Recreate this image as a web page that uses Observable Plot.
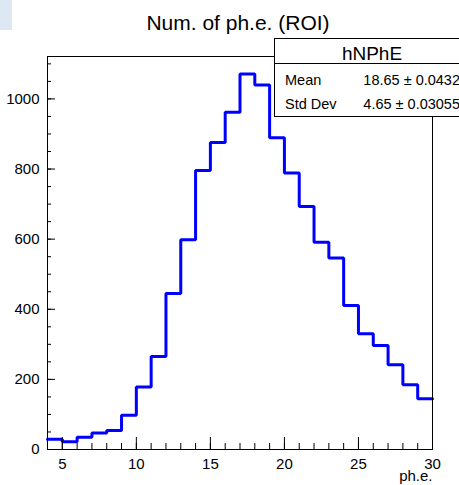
<!DOCTYPE html>
<html>
<head>
<meta charset="utf-8">
<script src="https://cdn.jsdelivr.net/npm/d3@7"></script>
<script src="https://cdn.jsdelivr.net/npm/@observablehq/plot@0.6"></script>
<style>
  html, body { margin: 0; padding: 0; background: #fff; }
  #chart { width: 459px; height: 485px; overflow: hidden; }
</style>
</head>
<body>
<div id="chart"></div>
<script>
// ---- data ----
const title = "Num. of ph.e. (ROI)";
const xLabel = "ph.e.";
const histName = "hNPhE";
const binLow = [4,5,6,7,8,9,10,11,12,13,14,15,16,17,18,19,20,21,22,23,24,25,26,27,28,29];
const binWidth = 1;
const counts = [29,22,35,47,54,98,178,265,445,598,796,876,962,1071,1040,889,789,693,591,546,411,330,297,242,185,145];
const statsLabels = ["Mean", "Std Dev"];
const statsValues = ["18.65 \u00b1 0.0432", "4.65 \u00b1 0.03055"];
const xDomain = [4, 30];
const yDomain = [0, 1121];
const xMajor = [5, 10, 15, 20, 25, 30];
const xMinor = d3.range(4, 31, 1);
const yMajor = [0, 200, 400, 600, 800, 1000];
const yMinor = d3.range(0, 1101, 50);

// step points (left edges + final right edge)
const steps = binLow.map((x, i) => ({x, y: counts[i]}));
steps.push({x: binLow[binLow.length - 1] + binWidth, y: counts[counts.length - 1]});

const W = 459, H = 485;
const mL = 47, mR = 27, mT = 56, mB = 36;
const innerW = W - mL - mR, innerH = H - mT - mB;
const FONT = "'Liberation Sans', Arial, Helvetica, sans-serif";

function overlay(index, scales, values, dimensions) {
  const g = d3.create("svg:g").attr("font-family", FONT).attr("text-anchor", "start");
  // small light-blue corner patch
  g.append("rect").attr("x", 0).attr("y", 0).attr("width", 12).attr("height", 30).attr("fill", "#dde8f4");
  // title
  g.append("text").attr("x", 238).attr("y", 30).attr("text-anchor", "middle")
    .attr("font-size", 21).attr("fill", "#000").text(title);
  // stats box
  const x0 = 274.5, x1 = 470, y0 = 38.5, y1 = 116.5, yDiv = 63.5;
  g.append("rect").attr("x", x0).attr("y", y0).attr("width", x1 - x0).attr("height", y1 - y0)
    .attr("fill", "#fff").attr("stroke", "#000").attr("stroke-width", 1);
  g.append("line").attr("x1", x0).attr("x2", x1).attr("y1", yDiv).attr("y2", yDiv)
    .attr("stroke", "#000").attr("stroke-width", 1);
  g.append("text").attr("x", 372).attr("y", 59.5).attr("text-anchor", "middle")
    .attr("font-size", 19).attr("fill", "#000").text(histName);
  const baselines = [85, 109];
  statsLabels.forEach((lab, i) => {
    g.append("text").attr("x", 285).attr("y", baselines[i]).attr("text-anchor", "start")
      .attr("font-size", 14.5).attr("fill", "#000").text(lab);
    g.append("text").attr("x", 460).attr("y", baselines[i]).attr("text-anchor", "end")
      .attr("font-size", 14.5).attr("fill", "#000").text(statsValues[i]);
  });
  return g.node();
}

const chart = Plot.plot({
  width: W,
  height: H,
  marginLeft: mL,
  marginRight: mR,
  marginTop: mT,
  marginBottom: mB,
  style: {fontFamily: FONT, background: "#fff", overflow: "visible", color: "#000"},
  x: {domain: xDomain, axis: null},
  y: {domain: yDomain, axis: null},
  marks: [
    Plot.line(steps, {x: "x", y: "y", curve: "step-after", stroke: "#0000ff", strokeWidth: 3, strokeLinejoin: "miter"}),
    Plot.frame({stroke: "#000", strokeWidth: 1}),
    Plot.tickX(xMinor, {x: d => d, stroke: "#000", insetTop: innerH - 6}),
    Plot.tickX(xMajor, {x: d => d, stroke: "#000", insetTop: innerH - 12}),
    Plot.tickY(yMinor, {y: d => d, stroke: "#000", insetRight: innerW - 4}),
    Plot.tickY(yMajor, {y: d => d, stroke: "#000", insetRight: innerW - 8}),
    Plot.axisX({ticks: xMajor, tickSize: 0, tickPadding: 9, fontSize: 15, tickFormat: d => String(d), label: null}),
    Plot.axisY({ticks: yMajor, tickSize: 0, tickPadding: 8, fontSize: 15, tickFormat: d => String(d), label: null}),
    Plot.text([xLabel], {frameAnchor: "bottom-right", text: d => d, textAnchor: "end", dy: 31, fontSize: 15, fill: "#000"}),
    overlay
  ]
});
document.getElementById("chart").appendChild(chart);
</script>
</body>
</html>
